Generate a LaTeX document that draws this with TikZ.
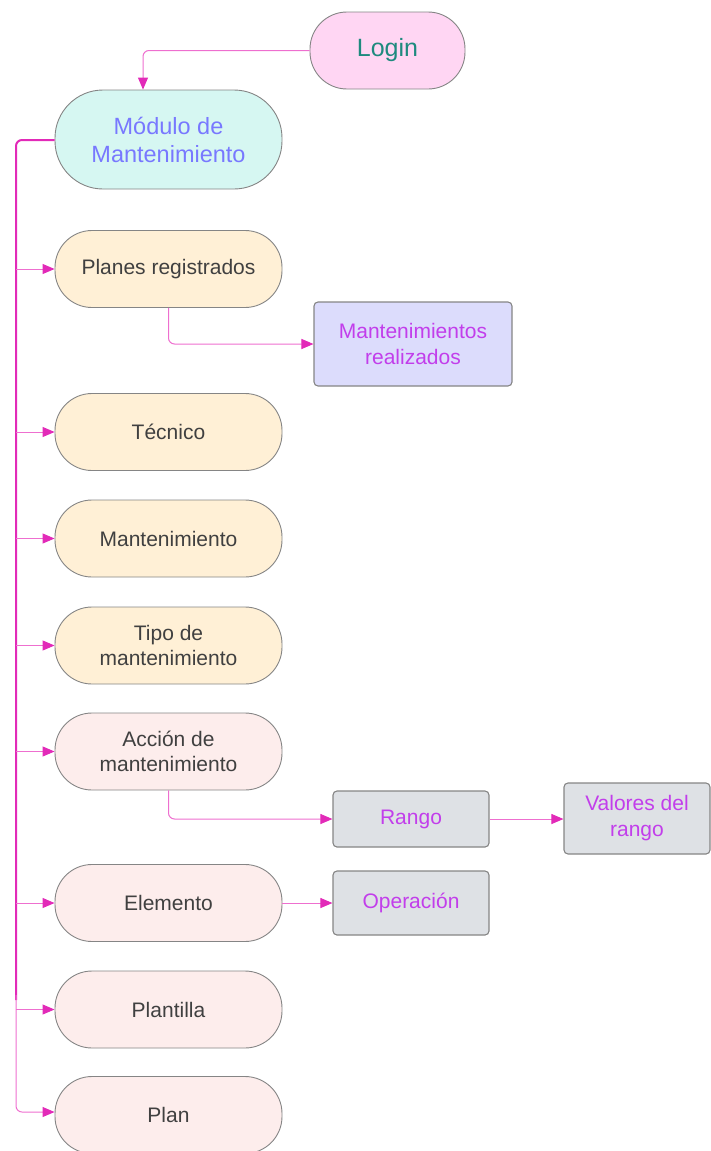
\documentclass[tikz,border=0pt]{standalone}
\usepackage{fontspec}
\setmainfont{Liberation Sans}
\usetikzlibrary{arrows.meta}
\definecolor{edgegray}{HTML}{858585}
\definecolor{linkmag}{HTML}{E22AB8}
\definecolor{linklight}{HTML}{EE6FCF}
\definecolor{loginfill}{HTML}{FFD6F3}
\definecolor{logintext}{HTML}{1E8A7E}
\definecolor{modfill}{HTML}{D6F7F2}
\definecolor{modtext}{HTML}{7878FF}
\definecolor{yfill}{HTML}{FFF0D6}
\definecolor{pfill}{HTML}{FDEDEC}
\definecolor{bluebox}{HTML}{DCDCFC}
\definecolor{graybox}{HTML}{DEE1E5}
\definecolor{purpletext}{HTML}{C23EEB}
\definecolor{darktext}{HTML}{404040}
\tikzset{
  pill/.style={draw=edgegray, line width=0.9pt, rounded corners=37pt, minimum width=227pt, minimum height=77pt, align=center, text=darktext, font=\fontsize{21}{25}\selectfont},
  boxr/.style={draw=edgegray, line width=1.1pt, rounded corners=4pt, align=center, text=purpletext, font=\fontsize{21}{26}\selectfont},
  conn/.style={draw=linklight, line width=1pt, rounded corners=6pt, -{Triangle[length=12pt,width=10pt,color=linkmag]}},
  trunk/.style={draw=linkmag, line width=2pt, rounded corners=6pt},
}
\begin{document}
\begin{tikzpicture}[x=1pt,y=-1pt]
\useasboundingbox (0,0) rectangle (710,1151);
\node[pill, fill=loginfill, text=logintext, minimum width=155pt, minimum height=77pt, font=\fontsize{25}{28}\selectfont] (login) at (387.5,50.5) {Login};
\node[pill, fill=modfill, text=modtext, minimum height=99pt, rounded corners=48pt, font=\fontsize{23.5}{28}\selectfont] (mod) at (168.5,139.5) {Módulo de\\Mantenimiento};
\node[pill, fill=yfill] (planes) at (168.5,269) {Planes registrados};
\node[boxr, fill=bluebox, minimum width=198pt, minimum height=84pt] (realiz) at (413,344) {Mantenimientos\\realizados};
\node[pill, fill=yfill] (tecnico) at (168.5,432) {Técnico};
\node[pill, fill=yfill] (mant) at (168.5,538.5) {Mantenimiento};
\node[pill, fill=yfill] (tipo) at (168.5,645.5) {Tipo de\\mantenimiento};
\node[pill, fill=pfill] (accion) at (168.5,751.5) {Acción de\\mantenimiento};
\node[boxr, fill=graybox, minimum width=156pt, minimum height=56pt] (rango) at (411,819) {Rango};
\node[boxr, fill=graybox, minimum width=146pt, minimum height=71pt] (valores) at (637,818.5) {Valores del\\rango};
\node[pill, fill=pfill] (elemento) at (168.5,903) {Elemento};
\node[boxr, fill=graybox, minimum width=156pt, minimum height=64pt] (oper) at (411,903) {Operación};
\node[pill, fill=pfill] (plantilla) at (168.5,1009.5) {Plantilla};
\node[pill, fill=pfill] (plan) at (168.5,1115) {Plan};
% trunk
\coordinate (tk0) at (16,140);
\coordinate (tkend) at (16,1112);
\draw[trunk] (mod.west |- 0,140) -- (tk0) -- (16,1000);
\draw[conn] (16,995) -- (tkend) -- (plan.west |- tkend);
\foreach \n in {planes,tecnico,mant,tipo,accion,elemento,plantilla}{
  \draw[conn] (16,0 |- \n.west) -- (\n.west);
}
\draw[conn] (login.west) -| (143,0 |- mod.north) -- (mod.north -| 143,0);
\draw[conn] (planes.south) |- (realiz.west);
\draw[conn] (accion.south) |- (rango.west);
\draw[conn] (rango.east) -- (rango.east -| valores.west);
\draw[conn] (elemento.east) -- (oper.west);
\end{tikzpicture}
\end{document}
